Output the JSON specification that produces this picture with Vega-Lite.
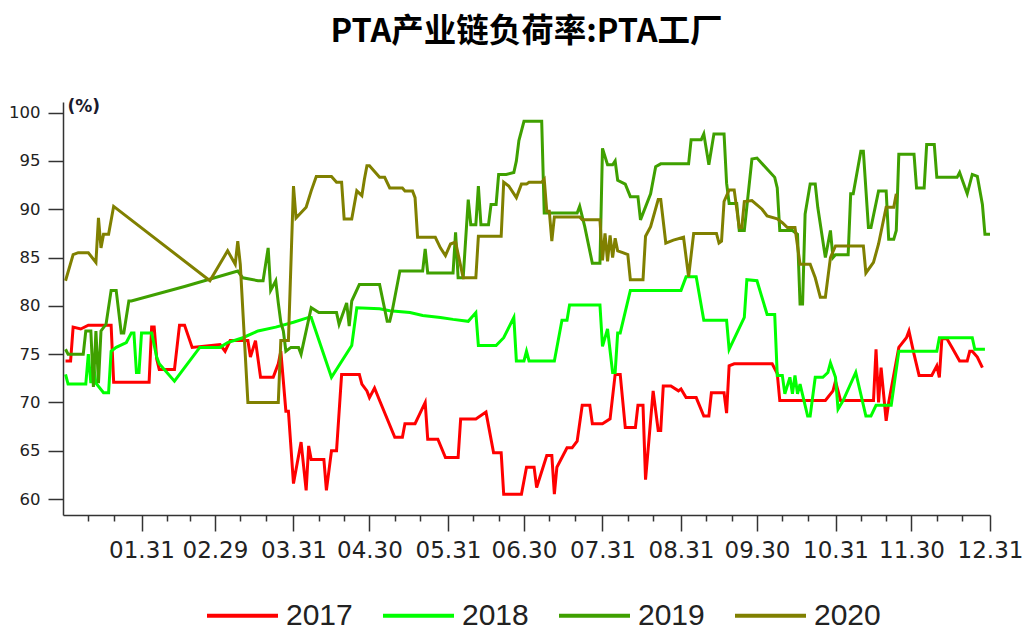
{
"$schema": "https://vega.github.io/schema/vega-lite/v6.json",
"width": 927, "height": 413,
"autosize": "none",
"padding": {"left": 63, "top": 102, "right": 35, "bottom": 116},
"background": "white",
"title": {"text": "PTA产业链负荷率:PTA工厂", "font": "Noto Sans CJK SC", "fontSize": 32.5, "fontWeight": "bold", "color": "#000000", "anchor": "middle", "offset": 49},
"data": {"values": [
{"year":"2017","day":1,"value":74.3},{"year":"2017","day":3,"value":74.3},{"year":"2017","day":4,"value":77.8},{"year":"2017","day":7,"value":77.6},{"year":"2017","day":10,"value":78.0},{"year":"2017","day":19,"value":78.0},{"year":"2017","day":20,"value":72.1},{"year":"2017","day":34,"value":72.1},{"year":"2017","day":35,"value":77.8},{"year":"2017","day":36,"value":77.8},{"year":"2017","day":37,"value":74.5},{"year":"2017","day":38,"value":73.4},{"year":"2017","day":44,"value":73.4},{"year":"2017","day":46,"value":78.0},{"year":"2017","day":48,"value":78.0},{"year":"2017","day":51,"value":75.7},{"year":"2017","day":62,"value":76.0},{"year":"2017","day":64,"value":75.3},{"year":"2017","day":66,"value":76.4},{"year":"2017","day":73,"value":76.4},{"year":"2017","day":74,"value":74.7},{"year":"2017","day":76,"value":76.4},{"year":"2017","day":78,"value":72.6},{"year":"2017","day":83,"value":72.6},{"year":"2017","day":85,"value":74.0},{"year":"2017","day":86,"value":75.3},{"year":"2017","day":88,"value":69.1},{"year":"2017","day":89,"value":69.1},{"year":"2017","day":91,"value":61.6},{"year":"2017","day":94,"value":65.9},{"year":"2017","day":96,"value":60.9},{"year":"2017","day":97,"value":65.5},{"year":"2017","day":98,"value":64.1},{"year":"2017","day":103,"value":64.1},{"year":"2017","day":104,"value":60.9},{"year":"2017","day":106,"value":65.0},{"year":"2017","day":108,"value":65.0},{"year":"2017","day":110,"value":72.9},{"year":"2017","day":117,"value":72.9},{"year":"2017","day":118,"value":71.9},{"year":"2017","day":120,"value":71.2},{"year":"2017","day":121,"value":70.5},{"year":"2017","day":123,"value":71.5},{"year":"2017","day":125,"value":70.2},{"year":"2017","day":131,"value":66.4},{"year":"2017","day":134,"value":66.4},{"year":"2017","day":135,"value":67.8},{"year":"2017","day":139,"value":67.8},{"year":"2017","day":143,"value":70.0},{"year":"2017","day":144,"value":66.2},{"year":"2017","day":148,"value":66.2},{"year":"2017","day":151,"value":64.3},{"year":"2017","day":156,"value":64.3},{"year":"2017","day":157,"value":68.3},{"year":"2017","day":163,"value":68.3},{"year":"2017","day":167,"value":69.0},{"year":"2017","day":170,"value":64.8},{"year":"2017","day":173,"value":64.8},{"year":"2017","day":174,"value":60.5},{"year":"2017","day":181,"value":60.5},{"year":"2017","day":183,"value":63.3},{"year":"2017","day":186,"value":63.3},{"year":"2017","day":187,"value":61.2},{"year":"2017","day":191,"value":64.5},{"year":"2017","day":193,"value":64.5},{"year":"2017","day":194,"value":60.5},{"year":"2017","day":195,"value":63.3},{"year":"2017","day":199,"value":65.3},{"year":"2017","day":201,"value":65.3},{"year":"2017","day":203,"value":66.0},{"year":"2017","day":205,"value":69.7},{"year":"2017","day":208,"value":69.7},{"year":"2017","day":209,"value":67.8},{"year":"2017","day":213,"value":67.8},{"year":"2017","day":216,"value":68.3},{"year":"2017","day":218,"value":72.9},{"year":"2017","day":220,"value":72.9},{"year":"2017","day":222,"value":67.4},{"year":"2017","day":226,"value":67.4},{"year":"2017","day":227,"value":69.7},{"year":"2017","day":229,"value":69.7},{"year":"2017","day":230,"value":62.0},{"year":"2017","day":233,"value":71.2},{"year":"2017","day":235,"value":67.1},{"year":"2017","day":236,"value":67.1},{"year":"2017","day":237,"value":71.7},{"year":"2017","day":240,"value":71.7},{"year":"2017","day":243,"value":71.2},{"year":"2017","day":244,"value":71.4},{"year":"2017","day":246,"value":70.5},{"year":"2017","day":250,"value":70.5},{"year":"2017","day":253,"value":68.6},{"year":"2017","day":255,"value":68.6},{"year":"2017","day":256,"value":71.0},{"year":"2017","day":261,"value":71.0},{"year":"2017","day":262,"value":68.9},{"year":"2017","day":263,"value":73.8},{"year":"2017","day":265,"value":74.0},{"year":"2017","day":280,"value":74.0},{"year":"2017","day":282,"value":73.0},{"year":"2017","day":283,"value":70.2},{"year":"2017","day":301,"value":70.2},{"year":"2017","day":304,"value":71.2},{"year":"2017","day":305,"value":72.2},{"year":"2017","day":307,"value":70.2},{"year":"2017","day":320,"value":70.2},{"year":"2017","day":321,"value":75.5},{"year":"2017","day":322,"value":70.0},{"year":"2017","day":323,"value":73.6},{"year":"2017","day":325,"value":68.1},{"year":"2017","day":326,"value":70.0},{"year":"2017","day":330,"value":75.7},{"year":"2017","day":333,"value":76.7},{"year":"2017","day":334,"value":77.4},{"year":"2017","day":336,"value":75.0},{"year":"2017","day":338,"value":72.8},{"year":"2017","day":343,"value":72.8},{"year":"2017","day":345,"value":73.8},{"year":"2017","day":346,"value":72.6},{"year":"2017","day":347,"value":76.6},{"year":"2017","day":349,"value":76.6},{"year":"2017","day":351,"value":75.7},{"year":"2017","day":354,"value":74.3},{"year":"2017","day":357,"value":74.3},{"year":"2017","day":358,"value":75.3},{"year":"2017","day":359,"value":75.3},{"year":"2017","day":361,"value":74.7},{"year":"2017","day":363,"value":73.6},
{"year":"2018","day":1,"value":72.9},{"year":"2018","day":2,"value":71.9},{"year":"2018","day":9,"value":71.9},{"year":"2018","day":10,"value":75.0},{"year":"2018","day":11,"value":72.0},{"year":"2018","day":12,"value":73.9},{"year":"2018","day":13,"value":72.0},{"year":"2018","day":16,"value":71.0},{"year":"2018","day":18,"value":71.0},{"year":"2018","day":19,"value":75.3},{"year":"2018","day":21,"value":75.7},{"year":"2018","day":25,"value":76.2},{"year":"2018","day":27,"value":77.2},{"year":"2018","day":28,"value":77.2},{"year":"2018","day":29,"value":73.1},{"year":"2018","day":30,"value":73.1},{"year":"2018","day":31,"value":77.2},{"year":"2018","day":35,"value":77.2},{"year":"2018","day":37,"value":74.7},{"year":"2018","day":38,"value":74.0},{"year":"2018","day":44,"value":72.2},{"year":"2018","day":54,"value":75.7},{"year":"2018","day":62,"value":75.7},{"year":"2018","day":65,"value":76.2},{"year":"2018","day":71,"value":76.7},{"year":"2018","day":77,"value":77.4},{"year":"2018","day":84,"value":77.8},{"year":"2018","day":91,"value":78.3},{"year":"2018","day":97,"value":78.8},{"year":"2018","day":98,"value":78.8},{"year":"2018","day":106,"value":72.6},{"year":"2018","day":114,"value":75.9},{"year":"2018","day":116,"value":79.8},{"year":"2018","day":125,"value":79.7},{"year":"2018","day":129,"value":79.5},{"year":"2018","day":137,"value":79.3},{"year":"2018","day":142,"value":79.0},{"year":"2018","day":149,"value":78.8},{"year":"2018","day":154,"value":78.6},{"year":"2018","day":160,"value":78.4},{"year":"2018","day":163,"value":79.3},{"year":"2018","day":164,"value":75.9},{"year":"2018","day":171,"value":75.9},{"year":"2018","day":174,"value":76.7},{"year":"2018","day":178,"value":78.8},{"year":"2018","day":179,"value":74.3},{"year":"2018","day":182,"value":74.3},{"year":"2018","day":183,"value":75.3},{"year":"2018","day":184,"value":74.3},{"year":"2018","day":194,"value":74.3},{"year":"2018","day":197,"value":78.5},{"year":"2018","day":199,"value":78.5},{"year":"2018","day":200,"value":80.1},{"year":"2018","day":212,"value":80.1},{"year":"2018","day":213,"value":75.8},{"year":"2018","day":215,"value":77.6},{"year":"2018","day":217,"value":73.1},{"year":"2018","day":218,"value":73.1},{"year":"2018","day":219,"value":77.2},{"year":"2018","day":220,"value":77.2},{"year":"2018","day":224,"value":81.6},{"year":"2018","day":244,"value":81.6},{"year":"2018","day":246,"value":83.0},{"year":"2018","day":250,"value":83.0},{"year":"2018","day":253,"value":78.5},{"year":"2018","day":262,"value":78.5},{"year":"2018","day":263,"value":75.5},{"year":"2018","day":269,"value":78.8},{"year":"2018","day":270,"value":82.7},{"year":"2018","day":274,"value":82.6},{"year":"2018","day":278,"value":79.1},{"year":"2018","day":281,"value":79.1},{"year":"2018","day":282,"value":72.8},{"year":"2018","day":284,"value":72.8},{"year":"2018","day":285,"value":70.9},{"year":"2018","day":287,"value":72.6},{"year":"2018","day":288,"value":70.9},{"year":"2018","day":289,"value":72.8},{"year":"2018","day":290,"value":70.9},{"year":"2018","day":291,"value":71.9},{"year":"2018","day":294,"value":68.6},{"year":"2018","day":295,"value":68.6},{"year":"2018","day":297,"value":72.6},{"year":"2018","day":300,"value":72.6},{"year":"2018","day":302,"value":73.1},{"year":"2018","day":303,"value":74.1},{"year":"2018","day":305,"value":72.6},{"year":"2018","day":306,"value":69.3},{"year":"2018","day":308,"value":70.2},{"year":"2018","day":313,"value":73.1},{"year":"2018","day":317,"value":68.6},{"year":"2018","day":319,"value":68.6},{"year":"2018","day":321,"value":69.7},{"year":"2018","day":327,"value":69.7},{"year":"2018","day":330,"value":75.3},{"year":"2018","day":345,"value":75.3},{"year":"2018","day":346,"value":76.7},{"year":"2018","day":359,"value":76.7},{"year":"2018","day":360,"value":75.5},{"year":"2018","day":364,"value":75.5},
{"year":"2019","day":1,"value":75.5},{"year":"2019","day":2,"value":75.0},{"year":"2019","day":8,"value":75.0},{"year":"2019","day":9,"value":77.4},{"year":"2019","day":11,"value":77.4},{"year":"2019","day":12,"value":71.6},{"year":"2019","day":13,"value":77.4},{"year":"2019","day":14,"value":72.0},{"year":"2019","day":15,"value":77.4},{"year":"2019","day":17,"value":78.1},{"year":"2019","day":19,"value":81.6},{"year":"2019","day":21,"value":81.6},{"year":"2019","day":23,"value":77.2},{"year":"2019","day":24,"value":77.2},{"year":"2019","day":26,"value":80.5},{"year":"2019","day":27,"value":80.5},{"year":"2019","day":48,"value":82.0},{"year":"2019","day":69,"value":83.6},{"year":"2019","day":71,"value":82.9},{"year":"2019","day":77,"value":82.6},{"year":"2019","day":79,"value":82.6},{"year":"2019","day":81,"value":86.0},{"year":"2019","day":82,"value":81.6},{"year":"2019","day":84,"value":82.6},{"year":"2019","day":85,"value":80.3},{"year":"2019","day":86,"value":78.3},{"year":"2019","day":87,"value":77.4},{"year":"2019","day":88,"value":75.3},{"year":"2019","day":90,"value":75.7},{"year":"2019","day":93,"value":75.7},{"year":"2019","day":94,"value":75.0},{"year":"2019","day":98,"value":79.8},{"year":"2019","day":101,"value":79.3},{"year":"2019","day":108,"value":79.3},{"year":"2019","day":109,"value":78.1},{"year":"2019","day":112,"value":80.3},{"year":"2019","day":113,"value":77.9},{"year":"2019","day":114,"value":80.5},{"year":"2019","day":117,"value":82.2},{"year":"2019","day":125,"value":82.2},{"year":"2019","day":128,"value":78.4},{"year":"2019","day":129,"value":78.4},{"year":"2019","day":130,"value":79.5},{"year":"2019","day":133,"value":83.6},{"year":"2019","day":142,"value":83.6},{"year":"2019","day":143,"value":85.9},{"year":"2019","day":144,"value":83.4},{"year":"2019","day":154,"value":83.4},{"year":"2019","day":155,"value":87.6},{"year":"2019","day":156,"value":82.9},{"year":"2019","day":158,"value":82.9},{"year":"2019","day":160,"value":91.0},{"year":"2019","day":161,"value":88.4},{"year":"2019","day":163,"value":88.4},{"year":"2019","day":164,"value":92.4},{"year":"2019","day":165,"value":88.4},{"year":"2019","day":168,"value":88.4},{"year":"2019","day":169,"value":90.5},{"year":"2019","day":171,"value":90.5},{"year":"2019","day":172,"value":93.6},{"year":"2019","day":175,"value":93.6},{"year":"2019","day":178,"value":93.8},{"year":"2019","day":179,"value":95.0},{"year":"2019","day":180,"value":97.1},{"year":"2019","day":182,"value":99.1},{"year":"2019","day":189,"value":99.1},{"year":"2019","day":190,"value":89.6},{"year":"2019","day":203,"value":89.6},{"year":"2019","day":204,"value":90.3},{"year":"2019","day":206,"value":88.2},{"year":"2019","day":209,"value":84.4},{"year":"2019","day":212,"value":84.4},{"year":"2019","day":213,"value":96.3},{"year":"2019","day":215,"value":94.6},{"year":"2019","day":217,"value":94.6},{"year":"2019","day":218,"value":95.0},{"year":"2019","day":219,"value":93.0},{"year":"2019","day":222,"value":92.6},{"year":"2019","day":224,"value":91.3},{"year":"2019","day":227,"value":91.3},{"year":"2019","day":228,"value":88.9},{"year":"2019","day":232,"value":91.6},{"year":"2019","day":234,"value":94.4},{"year":"2019","day":236,"value":94.7},{"year":"2019","day":247,"value":94.7},{"year":"2019","day":248,"value":97.2},{"year":"2019","day":252,"value":97.2},{"year":"2019","day":253,"value":97.8},{"year":"2019","day":255,"value":94.6},{"year":"2019","day":257,"value":97.8},{"year":"2019","day":261,"value":97.8},{"year":"2019","day":262,"value":92.7},{"year":"2019","day":263,"value":90.6},{"year":"2019","day":266,"value":90.6},{"year":"2019","day":267,"value":87.8},{"year":"2019","day":269,"value":87.8},{"year":"2019","day":272,"value":95.2},{"year":"2019","day":274,"value":95.3},{"year":"2019","day":281,"value":93.3},{"year":"2019","day":282,"value":92.2},{"year":"2019","day":283,"value":87.8},{"year":"2019","day":288,"value":87.8},{"year":"2019","day":290,"value":87.4},{"year":"2019","day":291,"value":80.2},{"year":"2019","day":292,"value":80.2},{"year":"2019","day":293,"value":89.5},{"year":"2019","day":295,"value":92.6},{"year":"2019","day":297,"value":92.6},{"year":"2019","day":298,"value":90.2},{"year":"2019","day":301,"value":85.0},{"year":"2019","day":303,"value":87.8},{"year":"2019","day":304,"value":85.0},{"year":"2019","day":305,"value":85.3},{"year":"2019","day":310,"value":85.3},{"year":"2019","day":311,"value":91.6},{"year":"2019","day":312,"value":91.6},{"year":"2019","day":315,"value":96.0},{"year":"2019","day":316,"value":96.0},{"year":"2019","day":318,"value":88.1},{"year":"2019","day":319,"value":88.1},{"year":"2019","day":322,"value":91.9},{"year":"2019","day":325,"value":91.9},{"year":"2019","day":326,"value":86.9},{"year":"2019","day":328,"value":86.9},{"year":"2019","day":329,"value":87.8},{"year":"2019","day":330,"value":95.7},{"year":"2019","day":336,"value":95.7},{"year":"2019","day":337,"value":92.2},{"year":"2019","day":340,"value":92.2},{"year":"2019","day":341,"value":96.7},{"year":"2019","day":344,"value":96.7},{"year":"2019","day":345,"value":93.3},{"year":"2019","day":353,"value":93.3},{"year":"2019","day":354,"value":93.8},{"year":"2019","day":357,"value":91.6},{"year":"2019","day":359,"value":93.6},{"year":"2019","day":361,"value":93.4},{"year":"2019","day":363,"value":90.5},{"year":"2019","day":364,"value":87.4},{"year":"2019","day":366,"value":87.4},
{"year":"2020","day":1,"value":82.6},{"year":"2020","day":4,"value":85.3},{"year":"2020","day":6,"value":85.5},{"year":"2020","day":10,"value":85.5},{"year":"2020","day":13,"value":84.5},{"year":"2020","day":14,"value":89.1},{"year":"2020","day":15,"value":86.0},{"year":"2020","day":16,"value":87.4},{"year":"2020","day":18,"value":87.4},{"year":"2020","day":20,"value":90.3},{"year":"2020","day":58,"value":82.6},{"year":"2020","day":65,"value":85.7},{"year":"2020","day":68,"value":84.3},{"year":"2020","day":69,"value":86.7},{"year":"2020","day":70,"value":84.3},{"year":"2020","day":73,"value":70.0},{"year":"2020","day":85,"value":70.0},{"year":"2020","day":86,"value":76.4},{"year":"2020","day":89,"value":76.4},{"year":"2020","day":91,"value":92.4},{"year":"2020","day":92,"value":89.1},{"year":"2020","day":96,"value":90.2},{"year":"2020","day":98,"value":91.9},{"year":"2020","day":100,"value":93.4},{"year":"2020","day":106,"value":93.4},{"year":"2020","day":108,"value":92.8},{"year":"2020","day":110,"value":92.8},{"year":"2020","day":111,"value":89.0},{"year":"2020","day":114,"value":89.0},{"year":"2020","day":116,"value":91.9},{"year":"2020","day":118,"value":91.4},{"year":"2020","day":119,"value":93.1},{"year":"2020","day":120,"value":94.5},{"year":"2020","day":121,"value":94.5},{"year":"2020","day":125,"value":93.3},{"year":"2020","day":127,"value":93.3},{"year":"2020","day":129,"value":92.2},{"year":"2020","day":134,"value":92.2},{"year":"2020","day":135,"value":91.9},{"year":"2020","day":138,"value":91.9},{"year":"2020","day":139,"value":91.2},{"year":"2020","day":140,"value":87.1},{"year":"2020","day":147,"value":87.1},{"year":"2020","day":149,"value":86.0},{"year":"2020","day":151,"value":85.2},{"year":"2020","day":153,"value":86.4},{"year":"2020","day":155,"value":86.6},{"year":"2020","day":158,"value":82.9},{"year":"2020","day":163,"value":82.9},{"year":"2020","day":164,"value":87.2},{"year":"2020","day":173,"value":87.2},{"year":"2020","day":174,"value":92.8},{"year":"2020","day":176,"value":92.4},{"year":"2020","day":179,"value":91.2},{"year":"2020","day":181,"value":92.6},{"year":"2020","day":183,"value":92.6},{"year":"2020","day":184,"value":92.8},{"year":"2020","day":189,"value":92.8},{"year":"2020","day":190,"value":93.1},{"year":"2020","day":191,"value":89.8},{"year":"2020","day":192,"value":89.8},{"year":"2020","day":193,"value":86.7},{"year":"2020","day":194,"value":89.2},{"year":"2020","day":204,"value":89.2},{"year":"2020","day":205,"value":88.9},{"year":"2020","day":212,"value":88.9},{"year":"2020","day":213,"value":84.7},{"year":"2020","day":214,"value":87.5},{"year":"2020","day":215,"value":84.6},{"year":"2020","day":216,"value":87.3},{"year":"2020","day":217,"value":85.0},{"year":"2020","day":218,"value":87.0},{"year":"2020","day":219,"value":85.7},{"year":"2020","day":221,"value":85.5},{"year":"2020","day":223,"value":85.3},{"year":"2020","day":224,"value":82.7},{"year":"2020","day":229,"value":82.7},{"year":"2020","day":230,"value":87.2},{"year":"2020","day":232,"value":88.2},{"year":"2020","day":235,"value":91.0},{"year":"2020","day":236,"value":91.0},{"year":"2020","day":238,"value":86.5},{"year":"2020","day":241,"value":86.8},{"year":"2020","day":245,"value":87.1},{"year":"2020","day":247,"value":83.0},{"year":"2020","day":249,"value":87.5},{"year":"2020","day":258,"value":87.5},{"year":"2020","day":259,"value":86.5},{"year":"2020","day":260,"value":86.7},{"year":"2020","day":261,"value":90.8},{"year":"2020","day":263,"value":92.0},{"year":"2020","day":265,"value":92.0},{"year":"2020","day":267,"value":88.1},{"year":"2020","day":268,"value":88.1},{"year":"2020","day":269,"value":90.8},{"year":"2020","day":272,"value":90.9},{"year":"2020","day":276,"value":90.0},{"year":"2020","day":278,"value":89.3},{"year":"2020","day":282,"value":89.0},{"year":"2020","day":284,"value":88.6},{"year":"2020","day":286,"value":88.1},{"year":"2020","day":289,"value":88.1},{"year":"2020","day":291,"value":84.3},{"year":"2020","day":295,"value":84.3},{"year":"2020","day":297,"value":82.9},{"year":"2020","day":299,"value":80.9},{"year":"2020","day":301,"value":80.9},{"year":"2020","day":303,"value":85.0},{"year":"2020","day":305,"value":86.2},{"year":"2020","day":316,"value":86.2},{"year":"2020","day":317,"value":83.4},{"year":"2020","day":320,"value":84.5},{"year":"2020","day":322,"value":86.4},{"year":"2020","day":325,"value":90.2},{"year":"2020","day":328,"value":90.2},{"year":"2020","day":329,"value":91.6}
]},
"mark": {"type": "line", "strokeWidth": 3, "interpolate": "linear"},
"encoding": {
"x": {"field": "day", "type": "quantitative",
 "scale": {"domain": [0, 366], "nice": false, "zero": false},
 "axis": {"title": null, "grid": false,
  "values": [10,20,31,41,50,60,70,80,91,101,111,121,131,141,152,162,172,182,192,202,213,223,233,244,254,264,274,284,294,305,315,325,335,345,355,366],
  "labelExpr": "date(datetime(2020, 0, datum.value + 1)) == 1 ? timeFormat(datetime(2020, 0, datum.value), '%m.%d') : ''",
  "tickSize": {"condition": {"test": "date(datetime(2020, 0, datum.value + 1)) == 1", "value": 16}, "value": 6},
  "tickColor": "#333333", "tickWidth": 1.5, "domainColor": "#333333", "domainWidth": 1.5,
  "labelFont": "DejaVu Sans", "labelFontSize": 23, "labelColor": "#222222", "labelPadding": 8,
  "labelOverlap": false, "labelFlush": false, "labelBound": false}},
"y": {"field": "value", "type": "quantitative",
 "scale": {"domain": [58.35, 101.1], "nice": false, "zero": false},
 "axis": {"grid": false, "values": [60,65,70,75,80,85,90,95,100],
  "tickSize": 15, "tickColor": "#333333", "tickWidth": 1.5, "domainColor": "#333333", "domainWidth": 1.5,
  "labelFont": "DejaVu Sans", "labelFontSize": 16.5, "labelColor": "#222222", "labelPadding": 8,
  "title": "(%)", "titleAngle": 0, "titleX": 4, "titleY": 4, "titleAlign": "left", "titleBaseline": "middle",
  "titleFont": "DejaVu Sans", "titleFontSize": 17, "titleFontWeight": "bold", "titleColor": "#1a1a2e"}},
"color": {"field": "year", "type": "nominal",
 "scale": {"domain": ["2017","2018","2019","2020"], "range": ["#FF0000","#00FF00","#3FA000","#808000"]},
 "legend": {"title": null, "orient": "none", "legendX": 142, "legendY": 476, "direction": "horizontal",
  "symbolType": "stroke", "symbolSize": 5041, "symbolStrokeWidth": 4,
  "labelFont": "Liberation Sans", "labelFontSize": 30, "labelColor": "#222222", "labelOffset": 6,
  "columnPadding": 22, "padding": 0}}
},
"config": {"view": {"stroke": null}}
}
